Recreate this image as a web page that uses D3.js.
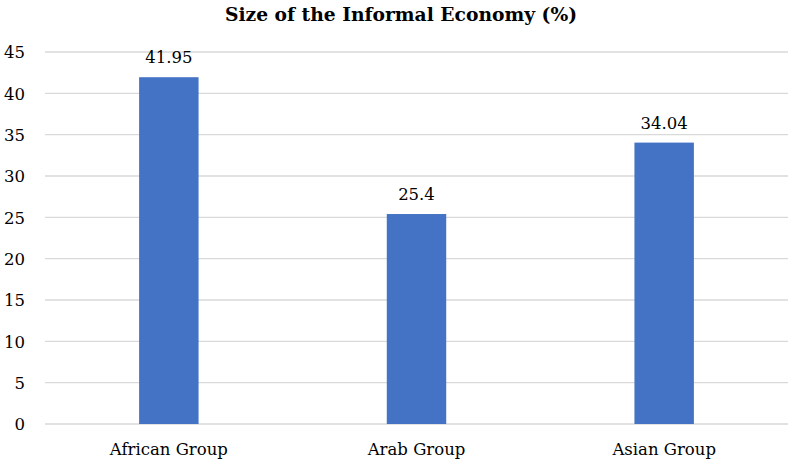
<!DOCTYPE html>
<html>
<head>
<meta charset="utf-8">
<script src="https://cdn.jsdelivr.net/npm/d3@7"></script>
<style>
  html, body { margin: 0; padding: 0; background: #fff; }
  svg text { font-family: "DejaVu Serif", "Liberation Serif", serif; fill: #000; }
</style>
</head>
<body>
<svg id="chart" width="790" height="462"></svg>
<script>
const categories = ["African Group", "Arab Group", "Asian Group"];
const values = [41.95, 25.4, 34.04];
const valueLabels = ["41.95", "25.4", "34.04"];
const yTicks = [0, 5, 10, 15, 20, 25, 30, 35, 40, 45];
const titleText = "Size of the Informal Economy (%)";

const svg = d3.select("#chart");
const margin = { left: 45, right: 2, top: 52, bottom: 38 };
const W = 790, H = 462;
const fontSize = 16.5;

const x = d3.scaleBand()
  .domain(categories)
  .range([margin.left, W - margin.right])
  .paddingInner(0.76)
  .paddingOuter(0.38);

const y = d3.scaleLinear()
  .domain([0, 45])
  .range([H - margin.bottom, margin.top]);

// horizontal gridlines
svg.append("g")
  .selectAll("line")
  .data(yTicks)
  .join("line")
  .attr("x1", margin.left)
  .attr("x2", W - margin.right)
  .attr("y1", d => y(d))
  .attr("y2", d => y(d))
  .attr("stroke", "#d9d9d9")
  .attr("stroke-width", 1.3);

// y axis labels
const yAxis = d3.axisLeft(y).tickValues(yTicks).tickSize(0).tickPadding(0);
const gy = svg.append("g")
  .attr("transform", `translate(${margin.left - 20},0)`)
  .call(yAxis);
gy.select(".domain").remove();
gy.selectAll("text")
  .attr("font-family", "DejaVu Serif")
  .attr("font-size", fontSize)
  .attr("fill", "#000")
  .attr("dy", "0.35em");

// bars
svg.append("g")
  .selectAll("rect")
  .data(values)
  .join("rect")
  .attr("x", (d, i) => x(categories[i]))
  .attr("width", x.bandwidth())
  .attr("y", d => y(d))
  .attr("height", d => y(0) - y(d))
  .attr("fill", "#4472c4");

// value labels
svg.append("g")
  .selectAll("text")
  .data(values)
  .join("text")
  .attr("x", (d, i) => x(categories[i]) + x.bandwidth() / 2)
  .attr("y", d => y(d) - 14)
  .attr("text-anchor", "middle")
  .attr("font-size", fontSize)
  .text((d, i) => valueLabels[i]);

// x axis labels
const xAxis = d3.axisBottom(x).tickSize(0).tickPadding(0);
const gx = svg.append("g")
  .attr("transform", `translate(0,${H - margin.bottom + 25})`)
  .call(xAxis);
gx.select(".domain").remove();
gx.selectAll("text")
  .attr("font-family", "DejaVu Serif")
  .attr("font-size", fontSize)
  .attr("fill", "#000")
  .attr("dy", "0.35em");

// title
svg.append("text")
  .attr("x", 401)
  .attr("y", 21)
  .attr("text-anchor", "middle")
  .attr("font-size", 18.7)
  .attr("font-weight", "bold")
  .text(titleText);
</script>
</body>
</html>
